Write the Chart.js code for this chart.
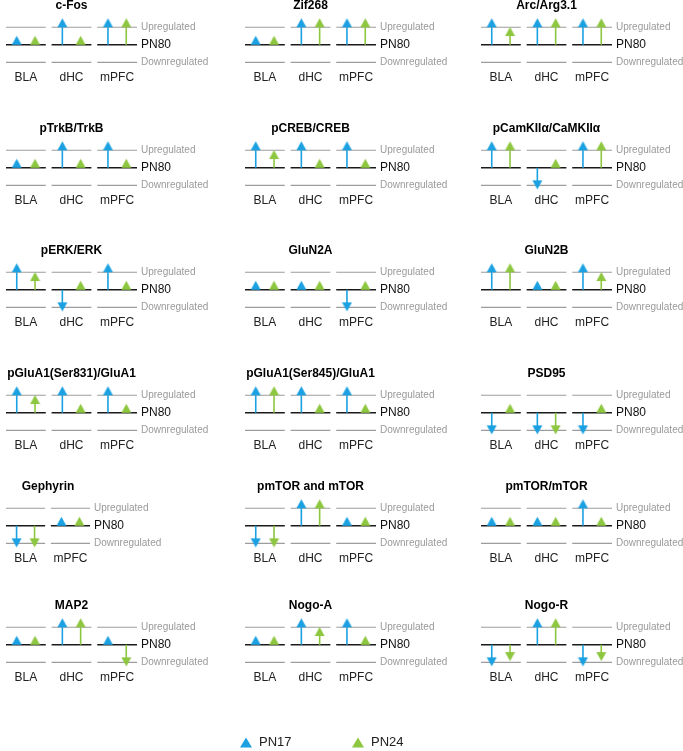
<!DOCTYPE html>
<html>
<head>
<meta charset="utf-8">
<script src="https://cdn.jsdelivr.net/npm/chart.js@4.4.0/dist/chart.umd.min.js"></script>
<style>
  body { margin: 0; background: #fff; overflow: hidden; }
  #wrap { position: relative; width: 683px; height: 751px; overflow: hidden; }
  #wrap canvas { position: absolute; }
</style>
</head>
<body>
<div id="wrap"></div>
<script>
// one panel per protein; arrow values: 1 = upregulated, 0 = same as PN80, -1 = downregulated
const titles = ['c-Fos', 'Zif268', 'Arc/Arg3.1',
                'pTrkB/TrkB', 'pCREB/CREB', 'pCamKIIα/CaMKIIα',
                'pERK/ERK', 'GluN2A', 'GluN2B',
                'pGluA1(Ser831)/GluA1', 'pGluA1(Ser845)/GluA1', 'PSD95',
                'Gephyrin', 'pmTOR and mTOR', 'pmTOR/mTOR',
                'MAP2', 'Nogo-A', 'Nogo-R'];
const R3 = ['BLA', 'dHC', 'mPFC'];
const regions = [R3, R3, R3, R3, R3, R3, R3, R3, R3, R3, R3, R3, ['BLA', 'mPFC'], R3, R3, R3, R3, R3];
const pn17 = [[0, 1, 1], [0, 1, 1], [1, 1, 1],
              [0, 1, 1], [1, 1, 1], [1, -1, 1],
              [1, -1, 1], [0, 0, -1], [1, 0, 1],
              [1, 1, 1], [1, 1, 1], [-1, -1, -1],
              [-1, 0], [-1, 1, 0], [0, 0, 1],
              [0, 1, 0], [0, 1, 1], [-1, 1, -1]];
const pn24 = [[0, 0, 1], [0, 1, 1], [0.5, 1, 1],
              [0, 0, 0], [0.5, 0, 0], [1, 0, 1],
              [0.5, 0, 0], [0, 0, 0], [1, 0, 0.5],
              [0.5, 0, 0], [1, 0, 0], [0, -1, 0],
              [-1, 0], [-1, 1, 0], [0, 0, 0],
              [0, 1, -1], [0, 0.5, 0], [-0.7, 1, -0.7]];
const levels = [1, 0, -1];
const levelLabels = ['Upregulated', 'PN80', 'Downregulated'];
const seriesNames = ['PN17', 'PN24'];

const colors = ['#1ba1e2', '#8dc63f'];
const colX = [2, 241, 477];
const rowY = [0, 123, 245, 368, 481, 600];
const PITCH = 47;          // px per region slot
const SEG = 41 / 47;       // line length inside a slot
const ARROW_POS = [0.27, 0.73];

Chart.defaults.font.family = '"Liberation Sans", Arial, Helvetica, sans-serif';
Chart.defaults.animation = false;
Chart.defaults.events = [];

function arrowImg(color, down) {
  const c = document.createElement('canvas');
  c.width = 11; c.height = 20;
  const g = c.getContext('2d');
  g.fillStyle = color;
  g.beginPath();
  if (down) { g.moveTo(0.5, 5); g.lineTo(10.5, 5); g.lineTo(5.5, 14); }
  else { g.moveTo(0.5, 10); g.lineTo(10.5, 10); g.lineTo(5.5, 1); }
  g.closePath();
  g.fill();
  return c;
}
function legendImg(color) {
  const c = document.createElement('canvas');
  c.width = 12; c.height = 11;
  const g = c.getContext('2d');
  g.fillStyle = color;
  g.beginPath();
  g.moveTo(0, 10.5); g.lineTo(12, 10.5); g.lineTo(6, 0.5);
  g.closePath();
  g.fill();
  return c;
}
const arrows = colors.map(c => [arrowImg(c, false), arrowImg(c, true)]);

const panelTitle = {
  id: 'panelTitle',
  afterDraw(chart, args, opts) {
    const { ctx, chartArea } = chart;
    ctx.save();
    ctx.font = 'bold 12px "Liberation Sans", Arial, sans-serif';
    ctx.fillStyle = '#000';
    ctx.textAlign = 'center';
    ctx.textBaseline = 'middle';
    ctx.fillText(opts.text, (chartArea.left + chartArea.right) / 2, 6);
    ctx.restore();
  }
};

const wrap = document.getElementById('wrap');

titles.forEach((title, p) => {
  const regs = regions[p];
  const n = regs.length;
  const vals = [pn17[p], pn24[p]];
  const row = Math.floor(p / 3), col = p % 3;

  const canvas = document.createElement('canvas');
  canvas.width = 2 + Math.round((n - 1 + SEG) * PITCH) + 80;
  canvas.height = 88;
  canvas.style.left = (colX[col] - 2) + 'px';
  canvas.style.top = rowY[row] + 'px';
  wrap.appendChild(canvas);

  const xPos = (i, k) => i + ARROW_POS[k] * SEG;

  const levelLine = (y) => {
    const pts = [];
    regs.forEach((r, i) => pts.push({ x: i, y: y }, { x: i + SEG, y: y }, { x: i + SEG, y: null }));
    return pts;
  };
  const stems = (k) => {
    const pts = [];
    vals[k].forEach((v, i) => {
      if (v !== 0) pts.push({ x: xPos(i, k), y: 0 }, { x: xPos(i, k), y: v }, { x: xPos(i, k), y: null });
    });
    return pts;
  };

  const datasets = [];
  // arrow heads on top
  [0, 1].forEach(k => datasets.push({
    label: seriesNames[k],
    data: vals[k].map((v, i) => ({ x: xPos(i, k), y: v })),
    pointStyle: ctx => arrows[k][ctx.raw && ctx.raw.y < 0 ? 1 : 0],
    pointRadius: 5,
    showLine: false,
    clip: false
  }));
  // arrow stems
  [0, 1].forEach(k => datasets.push({
    data: stems(k),
    showLine: true,
    spanGaps: false,
    borderColor: colors[k],
    borderWidth: 1.6,
    pointRadius: 0,
    clip: false
  }));
  // reference lines
  levels.forEach(y => datasets.push({
    data: levelLine(y),
    showLine: true,
    spanGaps: false,
    borderColor: y === 0 ? '#1a1a1a' : '#9d9d9d',
    borderWidth: y === 0 ? 1.5 : 1.2,
    pointRadius: 0,
    clip: false
  }));

  new Chart(canvas, {
    type: 'scatter',
    data: { datasets },
    plugins: [panelTitle],
    options: {
      responsive: false,
      devicePixelRatio: 1,
      layout: { padding: { left: 2, top: 15, right: 0, bottom: 0 } },
      scales: {
        x: {
          type: 'linear',
          min: 0,
          max: n - 1 + SEG,
          grid: { display: false, drawTicks: false },
          border: { display: false },
          afterBuildTicks: s => { s.ticks = regs.map((r, i) => ({ value: i + SEG / 2 })); },
          ticks: {
            padding: 3,
            color: '#222',
            font: { size: 12 },
            autoSkip: false,
            maxRotation: 0,
            callback: (v, i) => regs[i]
          }
        },
        y: {
          type: 'linear',
          position: 'right',
          min: -1.3,
          max: 1.7,
          grid: { display: false, drawTicks: false },
          border: { display: false },
          afterBuildTicks: s => { s.ticks = levels.map(v => ({ value: v })); },
          afterFit: s => { s.width = 80; },
          ticks: {
            padding: 4,
            callback: v => levelLabels[levels.indexOf(v)],
            color: c => (c.tick && c.tick.value === 0) ? '#111' : '#9a9a9a',
            font: c => ({ size: (c.tick && c.tick.value === 0) ? 12 : 10 })
          }
        }
      },
      plugins: {
        legend: { display: false },
        tooltip: { enabled: false },
        panelTitle: { text: title }
      }
    }
  });
});

// shared legend at the bottom (tall canvas so the legend keeps its room; the wrapper crops it)
const legCanvas = document.createElement('canvas');
legCanvas.width = 643;
legCanvas.height = 320;
legCanvas.style.left = '0px';
legCanvas.style.top = '676px';
wrap.appendChild(legCanvas);
new Chart(legCanvas, {
  type: 'scatter',
  data: {
    datasets: seriesNames.map((s, k) => ({
      label: s,
      data: [],
      pointStyle: legendImg(colors[k]),
      backgroundColor: colors[k]
    }))
  },
  options: {
    responsive: false,
    devicePixelRatio: 1,
    scales: { x: { display: false }, y: { display: false } },
    plugins: {
      tooltip: { enabled: false },
      legend: {
        display: true,
        position: 'top',
        labels: { usePointStyle: true, padding: 60, color: '#222', font: { size: 13 } }
      }
    }
  }
});
</script>
</body>
</html>
